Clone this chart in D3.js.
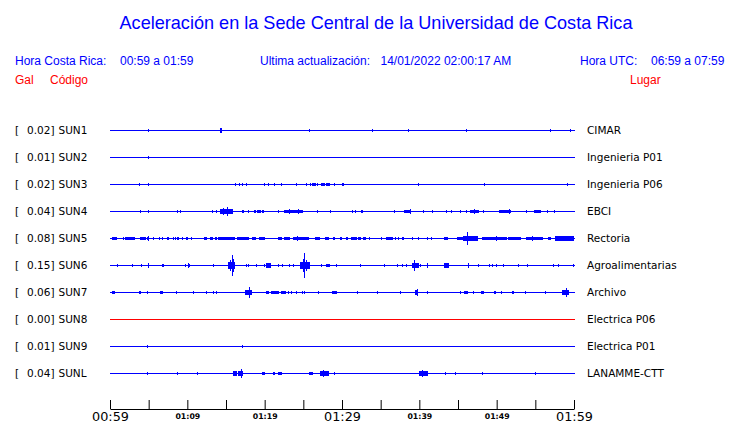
<!DOCTYPE html>
<html><head><meta charset="utf-8">
<script src="https://cdn.jsdelivr.net/npm/d3@7"></script>
<style>body{margin:0;background:#fff}svg{display:block}</style>
</head><body>
<script>
// ---------- DATA ----------
const stations = ["SUN1","SUN2","SUN3","SUN4","SUN5","SUN6","SUN7","SUN8","SUN9","SUNL"];
const places = ["CIMAR","Ingenieria P01","Ingenieria P06","EBCI","Rectoria","Agroalimentarias","Archivo","Electrica P06","Electrica P01","LANAMME-CTT"];
const peaks = ["0.02","0.01","0.02","0.04","0.08","0.15","0.06","0.00","0.01","0.04"];
const tickMinutes = [0,5,10,15,20,25,30,35,40,45,50,55,60];
const tickLabels = ["00:59","","01:09","","01:19","","01:29","","01:39","","01:49","","01:59"];
// events: [start minute, end minute, amplitude (Gal)] — minutes after 00:59
const sun1 = [[4.85,4.85,0.012],[14.2,14.45,0.025],[25.73,25.73,0.012],[33.92,33.92,0.01],[38.57,38.57,0.01],[46.07,46.07,0.01],[56.94,56.94,0.012],[59.52,59.52,0.01]];
const sun2 = [[4.85,4.85,0.012]];
const sun3 = [[3.79,3.95,0.012],[4.88,4.88,0.018],[16.2,16.2,0.008],[16.72,16.85,0.012],[17.11,17.11,0.008],[17.55,17.55,0.012],[19.95,19.95,0.01],[20.45,20.6,0.01],[21.17,21.17,0.01],[22.15,22.15,0.006],[24.09,24.09,0.01],[25.3,25.3,0.008],[25.4,25.4,0.008],[25.9,25.9,0.01],[26.12,26.6,0.012],[26.81,26.81,0.01],[27.25,27.8,0.012],[27.89,28.45,0.012],[28.93,28.93,0.01],[30.04,30.04,0.008],[30.09,30.26,0.012],[39.87,39.87,0.01],[48.36,48.36,0.012],[59.14,59.14,0.006]];
const sun4 = [[3.84,3.84,0.006],[4.88,4.88,0.018],[8.7,8.7,0.012],[9.09,9.09,0.008],[13.15,13.15,0.012],[13.67,13.67,0.006],[14.22,15.94,0.025],[14.6,14.6,0.035],[15.17,15.17,0.045],[17.03,17.33,0.015],[17.88,17.88,0.01],[18.66,18.97,0.015],[18.97,19.53,0.015],[19.69,20.0,0.015],[21.76,21.76,0.006],[22.54,25.0,0.018],[23.2,23.2,0.025],[24.27,24.27,0.03],[26.73,26.73,0.012],[28.45,28.45,0.015],[31.26,31.26,0.006],[31.7,31.8,0.012],[32.42,32.63,0.012],[36.73,36.73,0.012],[38.06,39.01,0.018],[38.79,38.79,0.03],[40.44,40.44,0.006],[41.6,41.6,0.012],[43.45,43.45,0.008],[44.06,44.06,0.008],[45.3,45.3,0.008],[46.04,46.04,0.012],[46.59,47.76,0.018],[47.03,47.03,0.03],[48.27,48.27,0.006],[50.3,51.82,0.018],[51.64,51.64,0.03],[53.83,53.83,0.012],[54.87,55.82,0.015],[56.47,56.47,0.012],[57.42,57.42,0.012]];
const sun5 = [[0.22,0.87,0.015],[1.64,1.64,0.012],[1.94,3.23,0.015],[3.88,4.62,0.015],[4.82,5.04,0.015],[4.95,4.95,0.03],[5.6,5.6,0.012],[6.38,6.38,0.012],[6.76,6.76,0.015],[7.33,7.63,0.015],[8.19,8.19,0.012],[8.41,8.41,0.008],[8.7,8.92,0.015],[9.27,9.27,0.012],[9.83,10.13,0.015],[10.44,10.44,0.01],[12.19,12.58,0.015],[12.93,13.28,0.015],[13.62,13.88,0.015],[13.97,16.16,0.015],[16.38,17.88,0.015],[18.32,18.84,0.015],[19.23,19.95,0.015],[21.69,22.2,0.015],[22.5,23.28,0.015],[23.7,25.77,0.015],[24.2,24.2,0.025],[26.51,27.16,0.015],[27.8,28.36,0.015],[28.8,29.01,0.015],[29.74,29.96,0.012],[30.52,30.82,0.015],[31.16,31.9,0.015],[32.11,32.55,0.015],[32.68,33.07,0.015],[33.49,33.49,0.015],[35.01,35.01,0.012],[35.69,36.63,0.015],[36.89,36.89,0.012],[37.28,37.28,0.01],[37.76,38.06,0.015],[39.01,39.01,0.012],[39.87,39.96,0.015],[41.03,41.03,0.012],[41.47,41.47,0.01],[43.23,43.75,0.015],[44.83,45.69,0.018],[45.69,47.63,0.025],[46.2,46.2,0.075],[48.07,51.3,0.015],[49.88,49.88,0.03],[51.51,53.24,0.015],[53.8,56.03,0.015],[54.6,54.6,0.03],[56.68,57.03,0.015],[57.55,60,0.022]];
const sun6 = [[0.94,0.94,0.01],[2.88,2.88,0.01],[4.01,4.01,0.01],[4.88,4.88,0.02],[6.76,7.02,0.015],[9.7,9.7,0.01],[10.05,10.25,0.018],[10.15,10.15,0.031],[13.36,13.36,0.012],[15.22,16.16,0.038],[15.5,15.5,0.06],[15.74,15.74,0.125],[15.95,15.95,0.07],[17.55,17.55,0.012],[17.88,17.88,0.012],[18.84,18.84,0.012],[19.95,19.95,0.012],[20.17,20.78,0.025],[21.76,21.76,0.01],[22.2,22.2,0.01],[23.15,23.15,0.01],[23.63,23.63,0.012],[24.57,25.86,0.038],[24.9,24.9,0.07],[25.13,25.13,0.15],[25.4,25.4,0.06],[27.25,27.25,0.01],[27.93,28.45,0.015],[29.19,29.19,0.01],[32.33,32.33,0.01],[35.43,35.43,0.01],[37.15,37.15,0.012],[37.8,37.8,0.012],[38.24,38.24,0.012],[39.01,39.87,0.03],[39.35,39.35,0.065],[40.09,40.09,0.012],[40.95,40.95,0.025],[43.23,43.84,0.025],[46.33,46.33,0.025],[47.59,47.59,0.01],[49.01,49.01,0.01],[49.44,49.44,0.01],[49.88,49.88,0.012],[50.86,50.86,0.008],[52.72,52.72,0.012],[53.96,53.96,0.012],[57.32,57.32,0.012],[57.97,57.97,0.01],[59.83,59.83,0.012]];
const sun7 = [[0.22,0.65,0.018],[3.79,4.1,0.018],[4.82,4.82,0.015],[6.47,6.89,0.018],[8.53,8.53,0.015],[10.69,10.69,0.015],[12.41,12.41,0.008],[13.36,13.36,0.012],[13.71,13.71,0.012],[17.46,18.32,0.025],[17.97,17.97,0.062],[20.17,20.6,0.018],[20.78,21.76,0.018],[22.11,22.72,0.018],[22.98,22.98,0.012],[23.37,23.37,0.012],[24.05,24.05,0.008],[24.87,24.87,0.012],[25.13,25.13,0.012],[26.94,26.94,0.01],[28.67,29.32,0.018],[31.9,31.9,0.012],[34.5,34.5,0.008],[37.5,37.5,0.012],[39.5,39.9,0.025],[39.7,39.7,0.04],[41.0,41.0,0.01],[45.2,45.2,0.012],[45.8,46.3,0.018],[47.0,47.0,0.01],[48.0,48.4,0.018],[49.7,50.0,0.018],[50.6,50.6,0.012],[52.0,52.3,0.015],[53.7,53.7,0.012],[56.2,56.2,0.012],[58.4,59.3,0.025],[59.0,59.0,0.045]];
const sun8 = [];
const sun9 = [[4.82,4.82,0.012],[17.11,17.11,0.008]];
const sunl = [[4.82,4.82,0.012],[8.63,8.63,0.01],[11.29,11.29,0.006],[15.87,16.38,0.025],[16.59,17.24,0.03],[16.94,16.94,0.05],[19.62,19.62,0.006],[19.82,20.04,0.018],[21.12,21.34,0.018],[21.69,22.2,0.018],[25.77,26.29,0.018],[27.16,28.32,0.025],[27.58,27.58,0.035],[29.01,29.01,0.008],[39.9,41.0,0.025],[40.4,40.4,0.035],[43.3,43.3,0.01],[44.6,44.6,0.01],[48.1,48.1,0.012],[55.0,55.0,0.008]];
const events = [sun1,sun2,sun3,sun4,sun5,sun6,sun7,sun8,sun9,sunl];

// ---------- DRAW ----------
const W = 740, H = 423;
const BLUE = "#0000ff", RED = "#ff0000";
const svg = d3.select("body").append("svg").attr("width", W).attr("height", H);

const x = d3.scaleLinear().domain([0, 60]).range([110, 574]);
const y = d3.scalePoint().domain(stations).range([130, 373]);
const amp = d3.scaleLinear().domain([0, 0.15]).range([0, 12]);

const sans = "'Liberation Sans', Arial, sans-serif";
const dv = "'DejaVu Sans', sans-serif";

svg.append("text").attr("x", 376).attr("y", 29).attr("text-anchor", "middle")
  .attr("font-family", sans).attr("font-size", 18.1).attr("fill", BLUE)
  .text("Aceleración en la Sede Central de la Universidad de Costa Rica");

const hdr = [
  [15, 65, BLUE, "Hora Costa Rica:"], [120, 65, BLUE, "00:59 a 01:59"],
  [260, 65, BLUE, "Ultima actualización:"], [380.5, 65, BLUE, "14/01/2022 02:00:17 AM"],
  [580, 65, BLUE, "Hora UTC:"], [651, 65, BLUE, "06:59 a 07:59"],
  [15, 84, RED, "Gal"], [50, 84, RED, "Código"], [630, 84, RED, "Lugar"]
];
svg.selectAll("text.hdr").data(hdr).join("text").attr("class", "hdr")
  .attr("x", d => d[0]).attr("y", d => d[1]).attr("fill", d => d[2])
  .attr("font-family", sans).attr("font-size", 12).text(d => d[3]);

stations.forEach((s, i) => {
  const cy = y(s);
  const col = peaks[i] === "0.00" ? RED : BLUE;
  const g = svg.append("g").attr("shape-rendering", "crispEdges");
  g.append("rect").attr("x", x(0)).attr("y", cy).attr("width", x(60) - x(0) + 1).attr("height", 1).attr("fill", col);
  g.selectAll("rect.ev").data(events[i]).join("rect").attr("class", "ev")
    .attr("x", d => Math.round(x(d[0])))
    .attr("width", d => Math.max(1, Math.round(x(Math.min(d[1], 60)) - x(d[0]))))
    .attr("y", d => cy - Math.max(1, Math.round(amp(d[2]))))
    .attr("height", d => 2 * Math.max(1, Math.round(amp(d[2]))) + 1)
    .attr("fill", col);

  const t = svg.append("g").attr("font-family", dv).attr("font-size", 10.5).attr("fill", "#000");
  t.append("text").attr("x", 15).attr("y", cy + 4).text("[");
  t.append("text").attr("x", 54.5).attr("y", cy + 4).attr("text-anchor", "end").text(peaks[i] + "]");
  t.append("text").attr("x", 58.5).attr("y", cy + 4).text(s);
  t.append("text").attr("x", 587).attr("y", cy + 4).text(places[i]);
});

const axis = d3.axisBottom(x).tickValues(tickMinutes).tickSize(-9).tickSizeOuter(0)
  .tickFormat((d, i) => tickLabels[i]);
const ag = svg.append("g").attr("transform", "translate(0,409)").call(axis);
ag.select(".domain").attr("stroke", "#000");
ag.selectAll(".tick line").attr("stroke", "#000");
ag.selectAll(".tick text")
  .attr("fill", "#000")
  .attr("font-family", dv)
  .attr("font-size", d => d % 30 === 0 ? 12.8 : 7.8)
  .attr("font-weight", d => d % 30 === 0 ? "normal" : "bold")
  .attr("y", d => d % 30 === 0 ? 2.5 : 4);
</script>
</body></html>
